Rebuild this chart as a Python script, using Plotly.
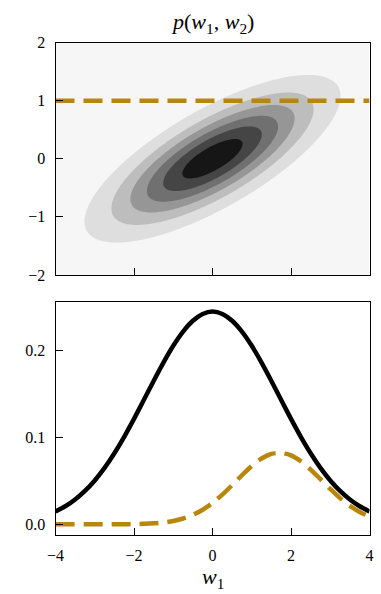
import numpy as np
import plotly.graph_objects as go

# ---------------- data ----------------
# joint density parameters (bivariate Gaussian shown in the top panel)
mean_w = [0.0, 0.0]
cov_w = [[2.66, 0.88], [0.88, 0.52]]
# contour levels (filled bands)
level_start = 0.0276
level_size = 0.031
level_end = 0.1826
band_colors = ["#f6f6f6", "#dedede", "#bdbdbd", "#969696", "#707070", "#454545", "#161616"]

# conditioning line in the top panel
w2_observed = 1.0

# bottom panel curves
w1_vals = [-4.0, -3.75, -3.5, -3.25, -3.0, -2.75, -2.5, -2.25, -2.0, -1.75, -1.5, -1.25,
           -1.0, -0.75, -0.5, -0.25, 0.0, 0.25, 0.5, 0.75, 1.0, 1.25, 1.5, 1.75,
           2.0, 2.25, 2.5, 2.75, 3.0, 3.25, 3.5, 3.75, 4.0]
marginal_p = [0.0148, 0.0207, 0.0285, 0.0383, 0.0504, 0.0649, 0.0817, 0.1006, 0.1212,
              0.1429, 0.1648, 0.1859, 0.2052, 0.2215, 0.2340, 0.2418, 0.2445, 0.2418,
              0.2340, 0.2215, 0.2052, 0.1859, 0.1648, 0.1429, 0.1212, 0.1006, 0.0817,
              0.0649, 0.0504, 0.0383, 0.0285, 0.0207, 0.0148]
joint_slice_p = [0.0, 0.0, 0.0, 0.0, 0.00001, 0.00002, 0.00005, 0.00013, 0.00027,
                 0.00056, 0.00113, 0.00215, 0.00388, 0.00667, 0.01085, 0.01675, 0.02454,
                 0.03412, 0.04503, 0.0564, 0.0670, 0.0756, 0.0809, 0.0822, 0.0793,
                 0.0725, 0.0629, 0.0519, 0.0406, 0.0301, 0.0212, 0.0142, 0.0090]

x_ticks = [-4, -2, 0, 2, 4]
top_y_ticks = [-2, -1, 0, 1, 2]
bottom_y_ticks = [0.0, 0.1, 0.2]

# ---------------- density grid ----------------
gx = np.linspace(-4, 4, 241)
gy = np.linspace(-2, 2, 161)
X, Y = np.meshgrid(gx, gy)
S = np.array(cov_w)
Si = np.linalg.inv(S)
dX = X - mean_w[0]
dY = Y - mean_w[1]
q = Si[0, 0] * dX**2 + 2 * Si[0, 1] * dX * dY + Si[1, 1] * dY**2
Z = np.exp(-0.5 * q) / (2 * np.pi * np.sqrt(np.linalg.det(S)))

n = len(band_colors)
colorscale = [[i / (n - 1), c] for i, c in enumerate(band_colors)]

GOLD = "#b8860b"
FONT = "Liberation Serif"

fig = go.Figure()
fig.add_trace(go.Contour(
    x=gx, y=gy, z=Z, xaxis="x", yaxis="y",
    colorscale=colorscale, showscale=False,
    contours=dict(start=level_start, end=level_end, size=level_size,
                  coloring="fill", showlines=False),
    line=dict(width=0), hoverinfo="skip"))
fig.add_trace(go.Scatter(
    x=[x_ticks[0], x_ticks[-1]], y=[w2_observed, w2_observed],
    xaxis="x", yaxis="y", mode="lines",
    line=dict(color=GOLD, width=4.5, dash="19px,9px"), showlegend=False))

fig.add_trace(go.Scatter(
    x=w1_vals, y=marginal_p, xaxis="x2", yaxis="y2", mode="lines",
    line=dict(color="black", width=4.5, shape="spline", smoothing=0.8),
    showlegend=False))
fig.add_trace(go.Scatter(
    x=w1_vals, y=joint_slice_p, xaxis="x2", yaxis="y2", mode="lines",
    line=dict(color=GOLD, width=4.5, dash="19px,9px", shape="spline", smoothing=0.8),
    showlegend=False))

W, H = 381, 594
xdom = [55.5 / W, 369.5 / W]
top_dom = [1 - 275 / H, 1 - 42.5 / H]
bot_dom = [1 - 535 / H, 1 - 301.7 / H]

axis_common = dict(showline=True, linecolor="black", linewidth=1.2, mirror=True,
                   ticks="inside", ticklen=7, tickwidth=1.2, tickcolor="black",
                   showgrid=False, zeroline=False, automargin=False,
                   tickfont=dict(family=FONT, size=16, color="black"))

fig.update_layout(
    width=W, height=H,
    margin=dict(l=0, r=0, t=0, b=0, pad=0),
    paper_bgcolor="white", plot_bgcolor="white",
    showlegend=False,
    xaxis=dict(domain=xdom, anchor="y", range=[-4, 4], tickvals=x_ticks,
               showticklabels=False, **axis_common),
    yaxis=dict(domain=top_dom, anchor="x", range=[-2, 2], tickvals=top_y_ticks,
               ticklabelstandoff=6, **axis_common),
    xaxis2=dict(domain=xdom, anchor="y2", range=[-4, 4], tickvals=x_ticks,
                ticklabelstandoff=6, **axis_common),
    yaxis2=dict(domain=bot_dom, anchor="x2", range=[-0.0123, 0.2559],
                tickvals=bottom_y_ticks, tickformat=".1f",
                ticklabelstandoff=6, **axis_common),
    annotations=[
        dict(text="<i>p</i>(<i>w</i><sub>1</sub>, <i>w</i><sub>2</sub>)",
             xref="paper", yref="paper", x=212.5 / W, y=1 - 23 / H,
             xanchor="center", yanchor="middle", showarrow=False,
             font=dict(family=FONT, size=22, color="black")),
        dict(text="<i>w</i><sub>1</sub>",
             xref="paper", yref="paper", x=212.5 / W, y=1 - 578 / H,
             xanchor="center", yanchor="middle", showarrow=False,
             font=dict(family=FONT, size=22, color="black")),
    ],
)

fig.write_html("out.html")
